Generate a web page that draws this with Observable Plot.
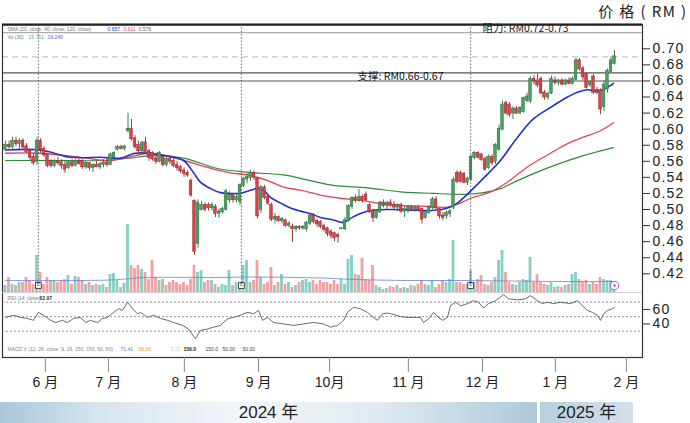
<!DOCTYPE html>
<html><head><meta charset="utf-8">
<script src="https://cdn.jsdelivr.net/npm/d3@7"></script>
<script src="https://cdn.jsdelivr.net/npm/@observablehq/plot@0.6"></script>
<style>
body{margin:0;background:#fff;}
#wrap{position:relative;width:690px;height:423px;overflow:hidden;font-family:"Liberation Sans","Noto Sans CJK SC",Arial,sans-serif;}
#wrap svg{position:absolute;left:0;top:0;}
.yr{position:absolute;top:402px;height:21px;line-height:21px;text-align:center;font-size:17px;color:#222;font-family:"Liberation Sans","Noto Sans CJK SC",sans-serif;}
</style></head><body><div id="wrap"></div>
<script>
// ---- data (trading-day index 0..174, mid-May 2024 to late Jan 2025) ----
const open = [.575,.580,.578,.585,.582,.585,.578,.572,.565,.560, .585,.575,.568,.560,.555,.560,.558,.555,.552,.558,
 .555,.560,.560,.553,.557,.552,.555,.553,.556,.558, .556,.565,.575,.577,.576,.598,.600,.588,.580,.573,
 .583,.572,.570,.563,.560,.565,.556,.562,.560,.555, .552,.548,.545,.535,.510,.458,.500,.505,.505,.502,
 .503,.495,.497,.500,.512,.518,.512,.510,.530,.538, .540,.545,.538,.500,.527,.515,.505,.488,.490,.486,
 .486,.480,.478,.476,.478,.477,.476,.483,.492,.485, .484,.479,.476,.472,.470,.468,.476,.476,.486,.504,
 .514,.511,.515,.518,.505,.498,.490,.497,.508,.505, .508,.505,.503,.505,.498,.500,.502,.500,.502,.500,
 .490,.496,.502,.512,.500,.492,.492,.495,.503,.545, .545,.544,.534,.538,.565,.570,.568,.562,.552,.565,
 .560,.575,.600,.632,.630,.620,.625,.620,.622,.636, .635,.662,.660,.662,.645,.640,.645,.660,.658,.660,
 .656,.660,.657,.662,.685,.675,.668,.655,.665,.648, .648,.628,.650,.672,.682];
const high = [.585,.585,.590,.590,.588,.588,.582,.575,.570,.590, .588,.578,.570,.562,.562,.565,.562,.560,.560,.562,
 .562,.563,.562,.560,.558,.557,.560,.558,.562,.565, .570,.572,.580,.580,.580,.620,.612,.592,.585,.585,
 .590,.575,.572,.570,.572,.568,.565,.566,.563,.560, .555,.552,.548,.538,.512,.512,.510,.508,.508,.508,
 .506,.500,.503,.525,.522,.520,.518,.532,.540,.545, .549,.548,.540,.530,.530,.518,.508,.495,.492,.490,
 .488,.485,.482,.480,.480,.480,.485,.495,.495,.488, .486,.482,.478,.475,.472,.470,.477,.490,.506,.516,
 .518,.525,.518,.522,.508,.500,.500,.510,.512,.510, .512,.510,.507,.508,.503,.505,.505,.504,.505,.502,
 .498,.505,.515,.516,.502,.496,.498,.500,.540,.548, .548,.546,.540,.568,.572,.572,.570,.565,.568,.568,
 .582,.605,.635,.635,.633,.628,.628,.628,.640,.645, .665,.667,.668,.665,.648,.646,.666,.665,.662,.663,
 .662,.664,.665,.688,.688,.678,.670,.660,.668,.652, .650,.660,.675,.690,.698];
const low = [.572,.575,.575,.578,.575,.575,.570,.560,.555,.555, .570,.565,.552,.552,.552,.555,.550,.545,.550,.552,
 .553,.555,.550,.550,.548,.546,.552,.550,.552,.553, .555,.562,.573,.574,.573,.595,.585,.575,.570,.568,
 .570,.560,.560,.556,.558,.553,.553,.556,.552,.548, .545,.540,.540,.515,.443,.452,.498,.497,.498,.498,
 .490,.489,.494,.498,.508,.508,.508,.505,.527,.532, .535,.536,.488,.495,.512,.505,.485,.482,.484,.482,
 .478,.477,.459,.472,.474,.474,.472,.480,.482,.478, .476,.472,.466,.463,.460,.458,.475,.474,.484,.500,
 .508,.509,.508,.510,.495,.484,.488,.495,.502,.500, .503,.500,.498,.495,.490,.495,.498,.497,.497,.482,
 .488,.494,.500,.500,.488,.486,.488,.490,.500,.532, .533,.532,.530,.535,.562,.563,.560,.548,.550,.555,
 .556,.572,.598,.618,.615,.612,.618,.618,.620,.633, .632,.655,.652,.643,.636,.636,.643,.655,.654,.654,
 .654,.655,.655,.660,.672,.660,.650,.652,.643,.643, .618,.622,.645,.670,.680];
const close = [.580,.578,.585,.582,.585,.578,.572,.565,.558,.585, .575,.568,.555,.555,.560,.558,.555,.550,.558,.555,
 .560,.557,.553,.557,.552,.555,.553,.556,.558,.556, .568,.570,.577,.576,.578,.600,.588,.578,.573,.582,
 .572,.565,.563,.560,.570,.556,.562,.560,.555,.552, .548,.545,.543,.518,.448,.508,.505,.500,.502,.505,
 .495,.497,.500,.522,.518,.512,.515,.530,.538,.540, .545,.540,.492,.527,.515,.508,.488,.490,.486,.488,
 .480,.482,.476,.478,.477,.478,.483,.492,.485,.482, .479,.475,.470,.468,.465,.466,.476,.486,.504,.514,
 .511,.515,.512,.512,.498,.490,.498,.508,.505,.508, .505,.503,.505,.498,.500,.502,.500,.502,.500,.488,
 .496,.502,.512,.502,.492,.490,.495,.497,.536,.535, .535,.534,.538,.565,.570,.565,.562,.550,.565,.558,
 .580,.600,.630,.620,.618,.625,.620,.626,.638,.640, .662,.660,.655,.645,.640,.643,.662,.658,.660,.656,
 .660,.657,.662,.685,.675,.665,.652,.658,.646,.646, .625,.655,.672,.685,.690];
const volume = [7,15,8,7,10,10,15,12,8,37, 20,8,15,12,12,10,12,13,17,8, 16,15,12,8,10,7,8,7,8,5,
 18,19,12,5,9,68,27,24,27,23, 20,13,32,15,12,13,7,10,12,10, 8,10,7,13,27,20,22,10,12,12,
 8,5,8,7,22,7,10,7,27,32, 10,12,32,15,8,10,25,7,10,18, 8,10,5,7,10,12,13,10,12,8,
 12,10,10,8,12,8,13,8,33,37, 18,17,34,13,12,27,7,5,3,4, 6,5,7,4,5,4,7,6,8,12,
 8,7,12,5,8,12,10,13,52,10, 10,8,8,22,10,13,17,8,7,10, 15,32,42,20,10,8,7,10,13,12,
 35,10,18,10,8,7,10,5,6,5, 7,8,18,20,13,10,12,8,10,8, 15,13,12,12,10];
const volMA = [[0,12],[30,12.5],[40,15],[60,15],[70,15.5],[90,14.5],[100,13],[115,12],[130,12],[145,11.5],[160,11],[174,11]];
const sma20 = [[0,.574],[10,.574],[18.6,.565],[27,.565],[33,.564],[37,.570],[41.4,.570],[46,.567],[50.9,.561],[53.7,.546],[55.7,.534],[58.6,.526],[61.4,.521],[64.3,.520],[67.1,.520],[70,.524],[72,.526],[73.7,.524],[75.7,.515],[78.6,.508],[81.4,.502],[84.3,.498],[87.1,.495],[90,.490],[93.7,.487],[96.6,.484],[98.6,.489],[101.4,.495],[105,.499],[110,.500],[117.7,.499],[122.3,.499],[126.3,.502],[129.1,.508],[131.7,.518],[136.6,.539],[141.4,.561],[146.3,.590],[150.9,.613],[155.7,.627],[160.6,.640],[163.4,.646],[166.3,.649],[169.1,.647],[172,.652],[173.7,.657]];
const sma40 = [[0,.570],[10,.570],[21.4,.565],[30,.561],[37,.567],[41.4,.570],[50.9,.561],[55.7,.555],[60.6,.549],[65.1,.545],[69.1,.543],[74.9,.536],[79.4,.528],[84.3,.524],[90,.518],[95.7,.514],[100.6,.512],[106.3,.508],[112.9,.505],[120.6,.504],[126.3,.503],[130,.508],[132.9,.514],[138.6,.522],[143.4,.534],[149.1,.553],[155.7,.570],[160.6,.582],[165.1,.590],[170,.598],[173.7,.608]];
const sma120 = [[0,.561],[12.9,.561],[27,.561],[35.7,.564],[41.4,.567],[50.9,.564],[60.6,.551],[70,.546],[79.4,.543],[87.1,.536],[93.7,.530],[103.4,.527],[112.9,.522],[122.3,.520],[132,.519],[136.6,.521],[141.4,.526],[146.3,.536],[155.7,.553],[165.1,.567],[173.7,.577]];
const rsi = [[0,49],[2.3,52],[4.3,49],[6.3,47.5],[8,45],[9.4,56],[10.9,52],[12.9,45],[14.3,42],[16.3,45],[17.7,42],[19.4,47.5],[21.4,49],[22.9,42],[24.3,45],[26.3,42],[27.7,47.5],[29.1,49],[30.9,56],[32.3,61],[33.4,58.6],[34.9,70],[36.3,61],[37.7,54],[38.6,56],[40.6,49],[42.3,52],[44.3,47.5],[46.3,45],[48,42],[50.6,38],[52.3,33],[54.3,19.5],[55.7,31],[57.7,33],[59.4,35.5],[61.4,38],[63.4,47],[65.1,49],[67.1,52],[69.1,56],[70.9,54],[72.3,58.6],[73.4,45],[74.9,49],[76.6,42],[79.4,40],[82.3,38],[85.1,40],[88,42],[90.9,40],[92.9,35.5],[94.9,38],[96.6,45],[97.7,56],[99.4,63],[101.4,61],[103.4,56],[105.1,49],[106.3,45],[107.7,54],[109.1,55],[110.9,53],[112.9,50],[114.9,49],[118.6,49],[119.4,42],[120.9,47],[122.3,56],[123.7,49],[124.9,45],[126.3,49],[127.1,65],[128.6,70],[130,65],[132,68],[133.7,72],[135.1,70],[136.6,62],[138,68],[140,72],[141.4,77],[142.3,80.6],[143.7,74.7],[146.3,73.3],[148.6,74.7],[150,79],[152,72],[153.4,68],[154.9,70],[156.6,68],[158.6,70],[161.4,68],[163.4,72],[164.9,65],[166.3,58.6],[167.7,56],[169.1,52],[170,45],[170.9,54],[172,58.6],[173.4,61],[174,63]];
const rsiLevels = [70, 50, 30];
const rsiTicks = [60, 40];
const priceTicks = [0.70,0.68,0.66,0.64,0.62,0.60,0.58,0.56,0.54,0.52,0.50,0.48,0.46,0.44,0.42];
const resistance = [0.72, 0.73];
const support = [0.66, 0.67];
const events = [9.4, 67.4, 132.9];
const monthTicks = [11.4, 29.4, 51.1, 72.3, 92.6, 115.1, 136.3, 157.1, 177.4];
const monthLabels = ["6 月","7 月","8 月","9 月","10月","11 月","12 月","1 月","2 月"];
const years = [{label:"2024 年", left:0, width:537}, {label:"2025 年", left:540, width:93}];

// ---- styles ----
const UP = "#4a9f62", UPD = "#2e6f40", DN = "#d4434a", DND = "#9a2a2f";
const VUP = "#86cfc3", VDN = "#f3a0a2";
const FF = '"Liberation Sans","Noto Sans CJK SC",Arial,sans-serif';
const CJK = '"Noto Sans CJK SC","Liberation Sans",sans-serif';
const W = 690, H = 400;
const xs = () => ({type:"linear", domain:[0,174], range:[5,614]});
const base = {width:W, height:H, marginLeft:2, marginRight:48, marginTop:24, marginBottom:43};

const candles = close.map((c,i)=>({i, o:open[i], h:high[i], l:low[i], c, v:volume[i], up:c>=open[i]}));
const monthMap = new Map(monthTicks.map((t,k)=>[t, monthLabels[k]]));

function seg(list, dy){
  return list.map(([t,dx,col,fw]) => Plot.text([t], {frameAnchor:"top-left", dx, dy, textAnchor:"start", lineAnchor:"middle", fontSize:5, fill:col, fontWeight:fw||"normal", fontFamily:FF}));
}

const main = Plot.plot({
  ...base,
  style:{background:"transparent", fontFamily:FF, overflow:"visible"},
  x: xs(),
  y: {domain:[0.42,0.70], range:[273.3,48.3]},
  color:{type:"identity"},
  marks:[
    Plot.ruleY([resistance[0]], {stroke:"#888", strokeWidth:0.9}),
    Plot.ruleY(support, {stroke:"#555", strokeWidth:1.1}),
    Plot.ruleY([close[close.length-1]], {stroke:"#b0b0b0", strokeDasharray:"6,4", strokeWidth:0.9}),
    Plot.line(sma120, {x:d=>d[0], y:d=>d[1], stroke:"#2f8a3c", strokeWidth:1.2, curve:"catmull-rom"}),
    Plot.line(sma40, {x:d=>d[0], y:d=>d[1], stroke:"#e2445c", strokeWidth:1.3, curve:"catmull-rom"}),
    Plot.line(sma20, {x:d=>d[0], y:d=>d[1], stroke:"#2430d0", strokeWidth:1.6, curve:"catmull-rom"}),
    Plot.ruleX(candles, {x:"i", y1:"l", y2:"h", stroke:d=>d.up?UPD:DND, strokeWidth:0.9}),
    Plot.rect(candles, {x1:d=>d.i-0.38, x2:d=>d.i+0.38, y1:"o", y2:"c", fill:d=>d.up?UP:DN, stroke:d=>d.up?UPD:DND, strokeWidth:0.5, insetTop:-0.5, insetBottom:-0.5}),
    Plot.frame({stroke:"#333", strokeWidth:1.2}),
    Plot.ruleY([resistance[1]], {stroke:"#222", strokeWidth:2.2}),
    Plot.text(["阻力: RM0.72-0.73"], {x:136.3, y:d3.mean(resistance), textAnchor:"start", fontSize:10.5, fill:"#222", fontFamily:CJK}),
    Plot.text(["支撑: RM0.66-0.67"], {x:100.6, y:d3.mean(support), textAnchor:"start", fontSize:10.5, fill:"#111", fontFamily:CJK}),
    ...seg([["SMA (20, close, 40, close, 120, close)",5,"#777"],["0.657",105,"#2430d0"],["0.611",121,"#e2445c"],["0.576",136,"#2f8a3c"]], 5),
    ...seg([["Vo (30)",5,"#777"],["19.751",26,"#3fb3a3"],["19.249",45,"#4a5fd0"]], 13),
    ...seg([["RSI (14, close)",5,"#777"],["62.97",37,"#333","bold"]], 273.5),
    ...seg([["MACD V (12, 26, close, 9, 26, 150, 150, 50, 50)",5,"#888"],["71.41",118,"#5a7bb0"],["68.26",136,"#f0a040"],["3.15",168,"#ccc"],["150.0",181,"#222","bold"],["150.0",203,"#444"],["50.00",220,"#444"],["50.00",240,"#444"]], 325),
    Plot.text(["价 格 ( RM )"], {frameAnchor:"top-right", dx:45, dy:-12.5, textAnchor:"end", lineAnchor:"middle", fontSize:15, fill:"#222", fontFamily:CJK}),
    Plot.axisY({anchor:"right", ticks:priceTicks, tickFormat:d3.format(".2f"), tickSize:7, tickPadding:3, fontSize:14, stroke:"#333", fill:"#222", label:null}),
    Plot.axisX({ticks:monthTicks, tickFormat:d=>monthMap.get(d), tickSize:15, tickPadding:5, fontSize:14, stroke:"#888", fill:"#222", label:null, fontFamily:FF})
  ]
});

const vol = Plot.plot({
  ...base, marginTop:24, marginBottom:115,
  style:{background:"transparent", overflow:"visible"},
  x: {...xs(), axis:null},
  y: {domain:[0,70], range:[292,222], axis:null},
  color:{type:"identity"},
  marks:[
    Plot.ruleY([0], {stroke:"#d0d0d0", strokeWidth:1}),
    Plot.rect(candles, {x1:d=>d.i-0.4, x2:d=>d.i+0.4, y1:0, y2:"v", fill:d=>d.up?VUP:VDN}),
    Plot.line(volMA, {x:d=>d[0], y:d=>d[1], stroke:"#6a82cf", strokeWidth:0.8, curve:"catmull-rom"}),
    Plot.ruleX(events, {x:d=>d, stroke:"#444", strokeWidth:0.8, strokeDasharray:"1.5,1.8"}),
    Plot.dot(events, {x:d=>d, frameAnchor:"bottom", symbol:"square", r:3.3, fill:"white", stroke:"#333", strokeWidth:0.9}),
    Plot.text(events, {x:d=>d, frameAnchor:"bottom", text:()=>"E", fontSize:5, fill:"#333"}),
    Plot.dot([174], {x:d=>d, frameAnchor:"bottom", r:4.2, fill:"white", stroke:"#a35bd6", strokeWidth:1}),
    Plot.dot([174], {x:d=>d, frameAnchor:"bottom", r:1.3, fill:"#a35bd6"})
  ]
});

const rsiPlot = Plot.plot({
  ...base,
  style:{background:"transparent", fontFamily:FF, overflow:"visible"},
  x: {...xs(), axis:null},
  y: {domain:[30,70], range:[330.7,301.7]},
  marks:[
    Plot.ruleY(rsiLevels, {stroke:"#777", strokeWidth:0.8, strokeDasharray:"2,2"}),
    Plot.line(rsi, {x:d=>d[0], y:d=>d[1], stroke:"#444", strokeWidth:0.8}),
    Plot.axisY({anchor:"right", ticks:rsiTicks, tickSize:7, tickPadding:3, fontSize:14, stroke:"#333", fill:"#222", label:null})
  ]
});

const wrap = document.getElementById("wrap");
[main, vol, rsiPlot].forEach(s => wrap.appendChild(s));
[main, rsiPlot].forEach(s => d3.select(s).selectAll('g[aria-label="y-axis tick label"] text').attr("letter-spacing","1.2px"));
d3.select(main).selectAll("text").filter(function(){ return this.textContent === "价 格 ( RM )"; }).attr("letter-spacing","1.4px");

years.forEach((y,k) => {
  const d = document.createElement("div");
  d.className = "yr";
  d.style.left = y.left + "px";
  d.style.width = y.width + "px";
  d.style.background = k === 0
    ? "linear-gradient(to right,#a9c6d9 0%,#d6e5ee 18%,#f3f7fa 45%,#dde9f0 72%,#afc9d9 100%)"
    : "linear-gradient(to right,#b8cfdd,#d2e1ea)";
  d.textContent = y.label;
  wrap.appendChild(d);
});
</script></body></html>
